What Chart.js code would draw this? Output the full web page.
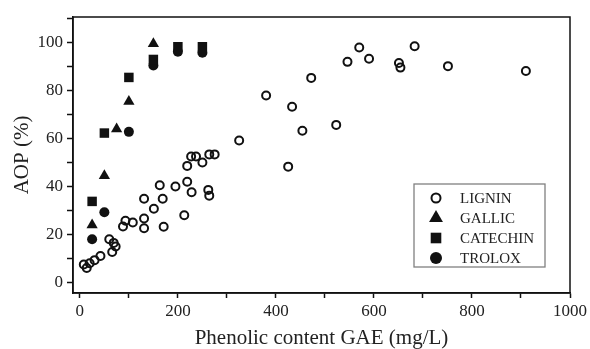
<!DOCTYPE html>
<html>
<head>
<meta charset="utf-8">
<script src="https://cdn.jsdelivr.net/npm/chart.js@4.4.1/dist/chart.umd.min.js"></script>
<style>
  body { margin: 0; background: #fff; }
</style>
</head>
<body>
<canvas id="aopChart" width="590" height="349"></canvas>
<script>
// data (x = phenolic content GAE mg/L, y = AOP %)
const seriesNames = ["LIGNIN", "GALLIC", "CATECHIN", "TROLOX"];

const ligninX = [8, 14, 20, 30, 42, 66, 73, 60, 69, 88, 93, 108, 131, 131, 131, 151, 163, 169, 171, 195,
  213, 219, 228, 262, 264, 219, 227, 237, 250, 264, 275, 325, 380, 425, 433, 454, 472, 523, 546, 570,
  590, 651, 654, 683, 751, 910];
const ligninY = [7.5, 6, 8, 9.3, 11, 12.7, 15, 18, 16.5, 23.3, 25.7, 25, 26.7, 22.6, 34.9, 30.7, 40.5, 34.9, 23.2, 40,
  28, 42, 37.6, 38.6, 36.2, 48.6, 52.5, 52.5, 50, 53.4, 53.4, 59.2, 78, 48.3, 73.3, 63.3, 85.3, 65.7, 92, 98,
  93.3, 91.5, 89.6, 98.5, 90.2, 88.2];

const gallicX = [25, 50, 75, 100, 150];
const gallicY = [24, 44.5, 64, 75.5, 99.5];

const catechinX = [25, 50, 100, 150, 200, 250];
const catechinY = [33.8, 62.3, 85.5, 93, 98.3, 98.3];

const troloxX = [25, 50, 100, 150, 200, 250];
const troloxY = [18, 29.3, 62.8, 90.5, 96.2, 95.8];

const xLabelStep = 200;
const yLabelStep = 20;

const ink = "#111";
const serif = "'Liberation Serif', 'Times New Roman', serif";

function pts(xs, ys) {
  return xs.map((x, i) => ({ x: x, y: ys[i] }));
}

const styles = [
  { pointStyle: "circle", radius: 4, borderWidth: 2, backgroundColor: "rgba(0,0,0,0)", legendRadius: 4.5 },
  { pointStyle: "triangle", radius: 6.5, borderWidth: 0, backgroundColor: ink, legendRadius: 8 },
  { pointStyle: "rect", radius: 6.7, borderWidth: 0, backgroundColor: ink, legendRadius: 7.5 },
  { pointStyle: "circle", radius: 5, borderWidth: 0, backgroundColor: ink, legendRadius: 6 }
];

const dataSets = [pts(ligninX, ligninY), pts(gallicX, gallicY), pts(catechinX, catechinY), pts(troloxX, troloxY)];

// frame round the plot + legend box inside the plot area
const framePlugin = {
  id: "frame",
  afterDraw(chart) {
    const { ctx, chartArea: a } = chart;
    ctx.save();
    ctx.strokeStyle = ink;
    ctx.lineWidth = 1.5;
    ctx.strokeRect(a.left, a.top, a.right - a.left, a.bottom - a.top);

    // legend
    const bx = a.right - 156, by = a.bottom - 109, bw = 131, bh = 83;
    ctx.strokeStyle = "#808080";
    ctx.lineWidth = 1.3;
    ctx.strokeRect(bx, by, bw, bh);
    ctx.font = "15px " + serif;
    ctx.textBaseline = "middle";
    ctx.textAlign = "left";
    chart.data.datasets.forEach((ds, i) => {
      const s = styles[i];
      const cy = by + 14 + i * 20;
      ctx.fillStyle = s.backgroundColor;
      ctx.strokeStyle = ink;
      ctx.lineWidth = s.borderWidth;
      Chart.helpers.drawPoint(ctx, { pointStyle: s.pointStyle, radius: s.legendRadius, borderWidth: s.borderWidth, rotation: 0 }, bx + 22, cy);
      ctx.fillStyle = "#222";
      ctx.fillText(ds.label, bx + 46, cy + 1);
    });
    ctx.restore();
  }
};

new Chart(document.getElementById("aopChart").getContext("2d"), {
  type: "scatter",
  data: {
    datasets: seriesNames.map((name, i) => ({
      label: name,
      data: dataSets[i],
      pointStyle: styles[i].pointStyle,
      pointRadius: styles[i].radius,
      pointHoverRadius: styles[i].radius,
      pointBorderWidth: styles[i].borderWidth,
      borderColor: ink,
      backgroundColor: styles[i].backgroundColor,
      pointBackgroundColor: styles[i].backgroundColor
    }))
  },
  options: {
    responsive: false,
    animation: false,
    layout: { padding: { top: 17, right: 18, left: 0, bottom: 0 } },
    plugins: {
      legend: { display: false },
      tooltip: { enabled: false }
    },
    scales: {
      x: {
        type: "linear",
        min: -14,
        max: 1000,
        afterFit(scale) { scale.height = 56; },
        border: { display: true, color: ink, width: 1.5 },
        grid: { drawOnChartArea: false, drawTicks: true, tickLength: 5, tickColor: ink, tickWidth: 1.5 },
        ticks: {
          stepSize: 100,
          includeBounds: false,
          autoSkip: false,
          maxRotation: 0,
          padding: 3,
          color: "#222",
          font: { family: serif, size: 17 },
          callback: v => (v % xLabelStep === 0 ? v : "")
        },
        title: {
          display: true,
          text: "Phenolic content GAE (mg/L)",
          color: "#222",
          font: { family: serif, size: 21, lineHeight: 1 },
          padding: { top: 0, bottom: 0 }
        }
      },
      y: {
        type: "linear",
        min: -4.4,
        max: 110.7,
        afterFit(scale) { scale.width = 73; },
        border: { display: true, color: ink, width: 1.5 },
        grid: { drawOnChartArea: false, drawTicks: true, tickLength: 6, tickColor: ink, tickWidth: 1.5 },
        ticks: {
          stepSize: 10,
          includeBounds: false,
          autoSkip: false,
          padding: 4,
          color: "#222",
          font: { family: serif, size: 17 },
          callback: v => (v % yLabelStep === 0 ? v : "")
        },
        title: {
          display: true,
          text: "AOP (%)",
          color: "#222",
          font: { family: serif, size: 21, lineHeight: 1 },
          padding: { top: 12, bottom: 0 }
        }
      }
    }
  },
  plugins: [framePlugin]
});
</script>
</body>
</html>
